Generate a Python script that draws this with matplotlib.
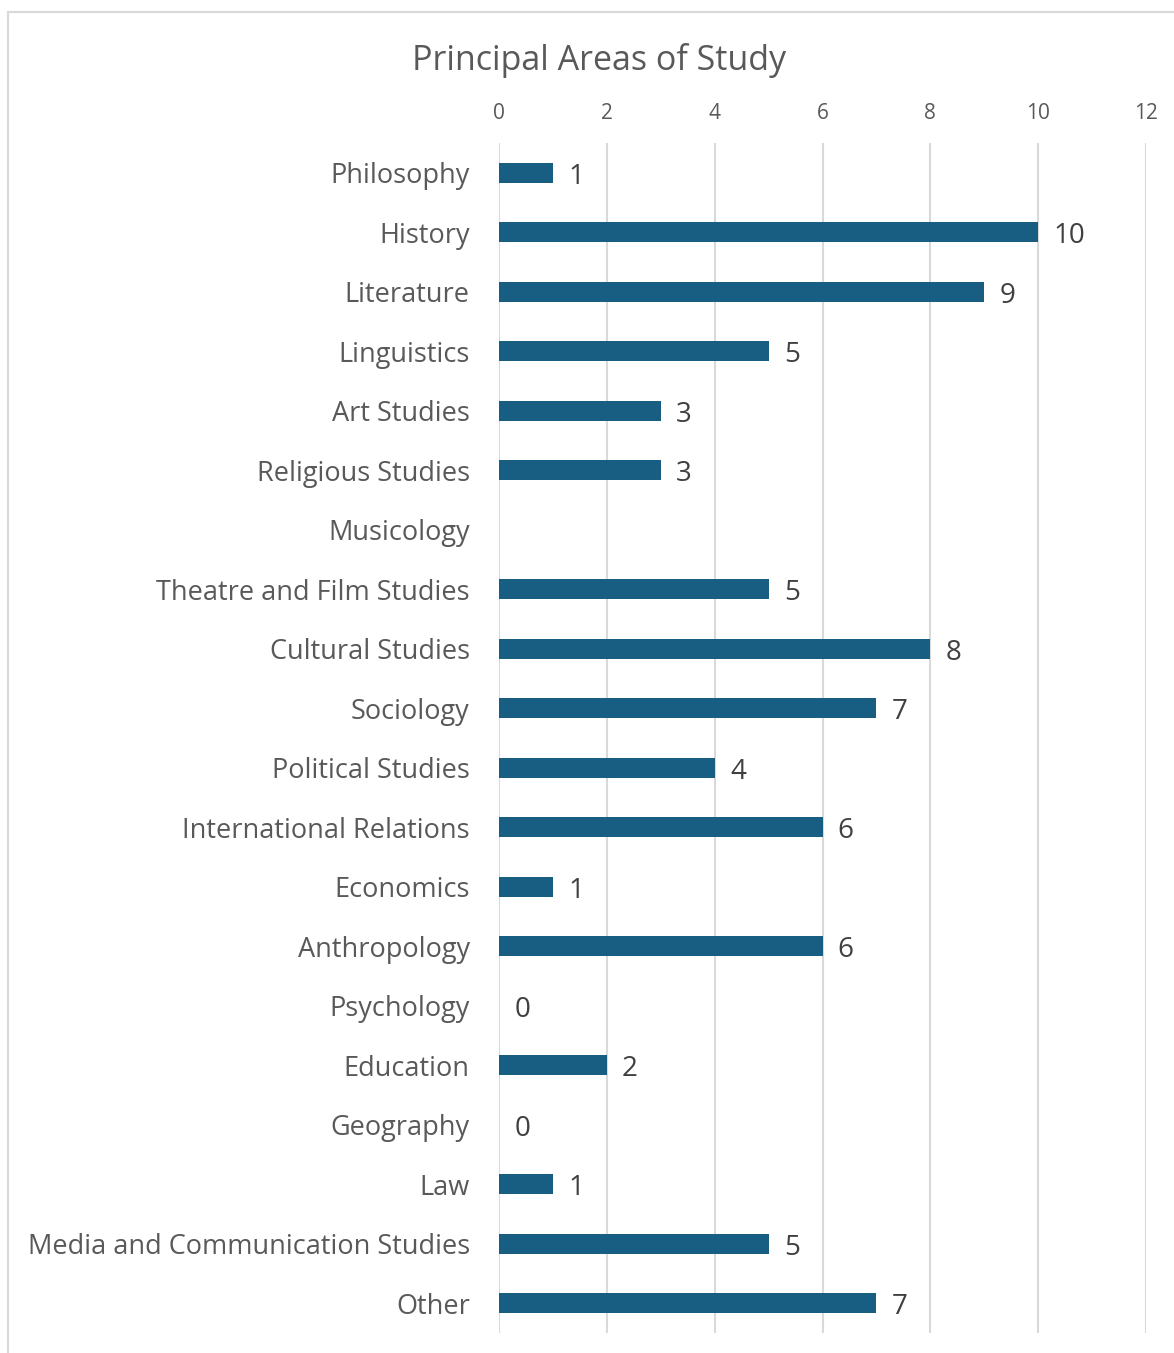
import numpy as np
import matplotlib
matplotlib.use("Agg")
import matplotlib.pyplot as plt
from matplotlib.patches import Rectangle

categories = [
    "Philosophy", "History", "Literature", "Linguistics", "Art Studies",
    "Religious Studies", "Musicology", "Theatre and Film Studies",
    "Cultural Studies", "Sociology", "Political Studies",
    "International Relations", "Economics", "Anthropology", "Psychology",
    "Education", "Geography", "Law", "Media and Communication Studies", "Other",
]
counts = [1, 10, 9, 5, 3, 3, np.nan, 5, 8, 7, 4, 6, 1, 6, 0, 2, 0, 1, 5, 7]
x_ticks = [0, 2, 4, 6, 8, 10, 12]

plt.rcParams["font.family"] = ["Open Sans", "DejaVu Sans"]

fig = plt.figure(figsize=(11.74, 13.53), dpi=100)
fig.add_artist(Rectangle((8 / 1174, -0.1), 1.2, 1.1 - 12 / 1353,
                         transform=fig.transFigure, facecolor="none",
                         edgecolor="#d9d9d9", linewidth=1.5))

ax = fig.add_axes([499 / 1174, 1 - 1333 / 1353, (1146 - 499) / 1174, (1333 - 143) / 1353])
y = np.arange(len(categories))
vals = np.nan_to_num(np.array(counts, dtype=float))
ax.barh(y, vals, height=0.34, color="#175e82", zorder=3)

for yi, v in zip(y, counts):
    if np.isnan(v):
        continue
    ax.annotate(f"{int(v)}", (v, yi), xytext=(11, -3), textcoords="offset points",
                va="center", ha="left", fontsize=20, color="#404040")

ax.set_xlim(0, 12)
ax.set_ylim(len(categories) - 0.5, -0.5)
ax.set_xticks(x_ticks)
ax.xaxis.tick_top()
ax.tick_params(axis="x", length=0, pad=13.5, labelsize=15, labelcolor="#595959")
ax.set_yticks(y)
ax.set_yticklabels(categories)
ax.tick_params(axis="y", length=0, pad=21, labelsize=19.5, labelcolor="#595959")
ax.grid(axis="x", color="#d9d9d9", linewidth=1.5, zorder=0)
for s in ax.spines.values():
    s.set_visible(False)

fig.text(599 / 1174, 1 - 60 / 1353, "Principal Areas of Study", ha="center", va="center",
         fontsize=24.5, color="#595959")

fig.savefig("out.png", dpi=100)
